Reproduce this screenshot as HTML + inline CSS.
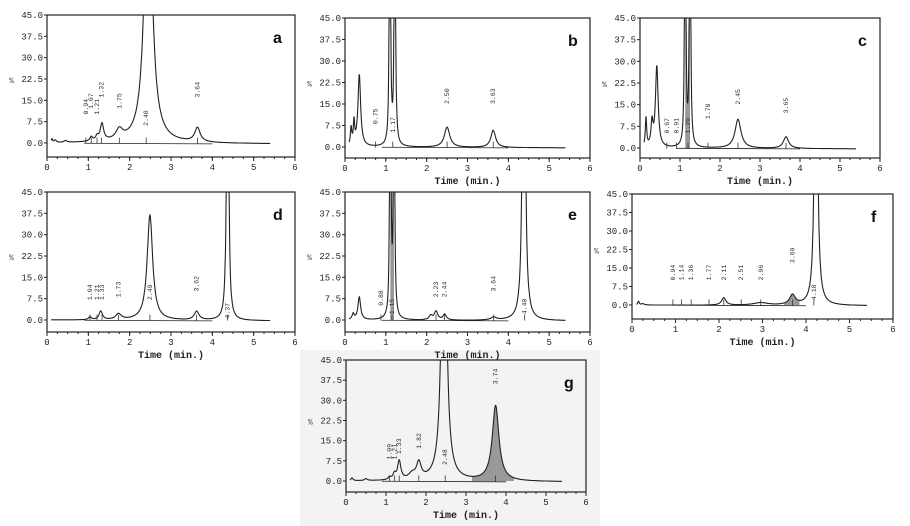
<!DOCTYPE html>
<html><head><meta charset="utf-8"><style>
html,body{margin:0;padding:0;background:#fff;}
svg{display:block;font-family:"Liberation Mono",monospace;}
</style></head><body>
<svg id="s" width="910" height="526" viewBox="0 0 910 526" xmlns="http://www.w3.org/2000/svg"></svg>
<script>
var s=document.getElementById('s'),out='';
out+='<rect x="300" y="350" width="300" height="176" fill="#f4f2f2"/>';
function panel(P){
 var x0=P.x0,x6=P.x6,yT=P.yT,y0=P.y0,yA=P.yA;
 var sx=(x6-x0)/6, sy=(y0-yT)/45;
 function X(t){return x0+t*sx;} function Y(v){return y0-v*sy;}
 out+='<rect x="'+x0+'" y="'+yT+'" width="'+(x6-x0)+'" height="'+(yA-yT)+'" fill="none" stroke="#222" stroke-width="1.2"/>';
 for(var i=0;i<=6;i++){var v=i*7.5,y=Y(v);
  out+='<line x1="'+(x0-3)+'" y1="'+y+'" x2="'+x0+'" y2="'+y+'" stroke="#222"/>';
  out+='<text x="'+(x0-4)+'" y="'+(y+3)+'" font-size="9" text-anchor="end" fill="#222">'+v.toFixed(1)+'</text>';}
 for(var i=0;i<=6;i++){var x=X(i);
  out+='<line x1="'+x+'" y1="'+yA+'" x2="'+x+'" y2="'+(yA+4)+'" stroke="#222"/>';
  out+='<text x="'+x+'" y="'+(yA+13)+'" font-size="9" text-anchor="middle" fill="#222">'+i+'</text>';}
 for(var i=0;i<24;i++){var x=X(i*0.25);out+='<line x1="'+x+'" y1="'+yA+'" x2="'+x+'" y2="'+(yA+2)+'" stroke="#222"/>';}
 if(P.time) out+='<text x="'+((x0+x6)/2)+'" y="'+(yA+26)+'" font-size="10" font-weight="bold" text-anchor="middle" fill="#222">Time (min.)</text>';
 out+='<text x="'+(x0-38)+'" y="'+((yT+y0)/2+4)+'" font-size="8" fill="#444">%</text>';
 function f(t){var v=-0.3*t/5.4;P.pk.forEach(function(p){var d=(t-p[0])/p[2];v+=p[1]/(1+d*d);});return Math.min(v,60);}
 var d='';
 for(var t=0.1;t<=5.4;t+=0.005){var v=f(t),y=Math.max(Y(v),yT);d+=(d?'L':'M')+X(t).toFixed(1)+' '+y.toFixed(1);}
 (P.shade||[]).forEach(function(r){var a='M'+X(r[0])+' '+Y(0);for(var t=r[0];t<=r[1];t+=0.005){a+='L'+X(t).toFixed(1)+' '+Math.max(Y(Math.max(f(t),0)),yT).toFixed(1);}a+='L'+X(r[1])+' '+Y(0)+'Z';out+='<path d="'+a+'" fill="#999"/>';});
 out+='<path d="'+d+'" fill="none" stroke="#222" stroke-width="1.1"/>';
 out+='<line x1="'+X(0.9)+'" y1="'+Y(-0.1)+'" x2="'+X(4)+'" y2="'+Y(-0.3)+'" stroke="#222" stroke-width="0.8"/>';
 (P.lab||[]).forEach(function(l){var x=X(l[0]),y=Y(l[1]);
  out+='<text transform="translate('+(x+2)+','+y+') rotate(-90)" font-size="6.5" fill="#333">'+l[0].toFixed(2)+'</text>';
  out+='<line x1="'+x+'" y1="'+(Y(-0.2))+'" x2="'+x+'" y2="'+(Y(-0.2)-6)+'" stroke="#333" stroke-width="0.8"/>';});
 out+='<text x="'+(x6-22)+'" y="'+(yT+28)+'" font-size="16" font-weight="bold" font-family="Liberation Sans,sans-serif" fill="#111">'+P.L+'</text>';
}
panel({x0:47,x6:295,yT:15,y0:143,yA:157,L:'a',pk:[[0.12,1.2,0.02],[0.2,0.8,0.03],[0.45,0.6,0.04],[1.07,1.5,0.04],[1.21,1.5,0.04],[1.33,6,0.05],[1.75,3.5,0.1],[2.45,110,0.1],[3.64,5,0.08]],lab:[[0.94,10],[1.07,12],[1.21,10],[1.32,16],[1.75,12],[2.40,6],[3.64,16]]});
panel({x0:345,x6:590,yT:18,y0:147,yA:158,time:1,L:'b',pk:[[0.15,6,0.02],[0.22,8,0.02],[0.35,25,0.04],[1.1,200,0.012],[1.22,200,0.012],[2.5,7,0.08],[3.63,6,0.07]],lab:[[0.75,8],[1.17,5],[2.50,15],[3.63,15]]});
panel({x0:640,x6:880,yT:18,y0:148,yA:158,time:1,L:'c',pk:[[0.15,10,0.02],[0.3,8,0.03],[0.42,28,0.04],[1.13,200,0.012],[1.25,200,0.012],[2.45,10,0.09],[3.65,4,0.08]],shade:[[1.13,1.25]],lab:[[0.67,5],[0.91,5],[1.20,5],[1.70,10],[2.45,15],[3.65,12]]});
panel({x0:47,x6:295,yT:192,y0:320,yA:332,time:1,L:'d',pk:[[1.04,1,0.04],[1.3,3,0.05],[1.73,2,0.08],[2.49,37,0.08],[3.62,3,0.07],[4.37,200,0.02]],lab:[[1.04,7],[1.21,7],[1.33,7],[1.73,8],[2.49,7],[3.62,10],[4.37,0.5]]});
panel({x0:345,x6:590,yT:192,y0:320,yA:332,time:1,L:'e',pk:[[0.2,2,0.03],[0.35,8,0.04],[1.11,200,0.012],[1.2,200,0.012],[2.1,1.5,0.05],[2.23,3,0.05],[2.44,2,0.05],[3.64,1,0.08],[4.38,200,0.03]],shade:[[1.11,1.2]],lab:[[0.88,5],[1.15,2],[2.23,8],[2.44,8],[3.64,10],[4.40,2]]});
panel({x0:632,x6:893,yT:194,y0:305,yA:319,time:1,L:'f',pk:[[0.15,1.5,0.02],[0.25,0.5,0.04],[2.11,3,0.06],[2.96,1,0.2],[3.69,4,0.08],[4.23,200,0.03]],shade:[[3.5,3.85]],lab:[[0.94,10],[1.14,10],[1.36,10],[1.77,10],[2.11,10],[2.51,10],[2.96,10],[3.69,17],[4.18,2]]});
panel({x0:346,x6:586,yT:360,y0:481,yA:492,time:1,L:'g',pk:[[0.15,1,0.03],[0.5,0.7,0.04],[1.09,1,0.04],[1.21,2,0.04],[1.33,7,0.05],[1.65,2,0.1],[1.82,6,0.07],[2.45,150,0.06],[3.74,28,0.1]],shade:[[3.15,4.2]],lab:[[1.09,8],[1.21,8],[1.33,10],[1.82,12],[2.48,6],[3.74,36]]});
s.innerHTML=out;
</script>
</body></html>
